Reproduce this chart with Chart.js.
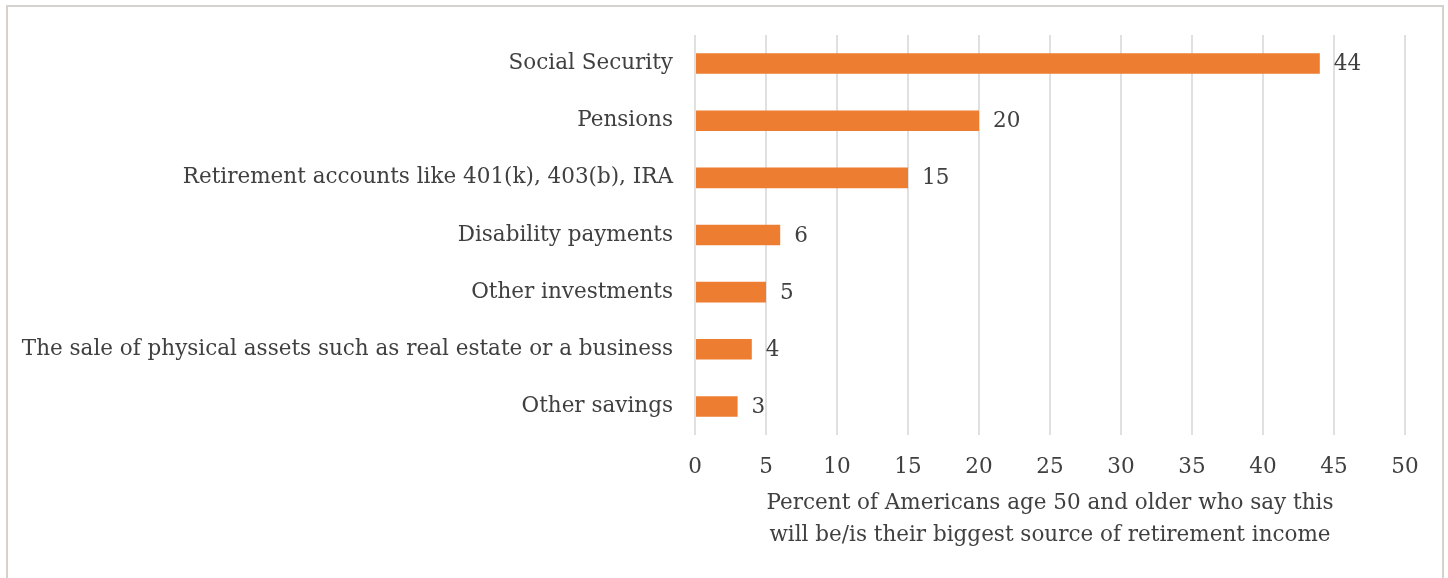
<!DOCTYPE html>
<html>
<head>
<meta charset="utf-8">
<script src="https://cdn.jsdelivr.net/npm/chart.js@4"></script>
<style>
  html, body { margin: 0; padding: 0; background: #fff; }
  #wrap { position: relative; width: 1448px; height: 578px; }
  #frame {
    position: absolute; left: 6px; top: 5px; width: 1438px; height: 600px;
    border: 2px solid #d6d1cc; box-sizing: border-box; pointer-events: none;
  }
  canvas { position: absolute; left: 0; top: 0; }
</style>
</head>
<body>
<div id="wrap">
  <canvas id="incomeChart" width="1448" height="578"></canvas>
  <div id="frame"></div>
</div>
<script>
// Biggest source of retirement income, age 50+
const sources = [
  'Social Security',
  'Pensions',
  'Retirement accounts like 401(k), 403(b), IRA',
  'Disability payments',
  'Other investments',
  'The sale of physical assets such as real estate or a business',
  'Other savings'
];
const percents = [44, 20, 15, 6, 5, 4, 3];
const axisTitle = [
  'Percent of Americans age 50 and older who say this',
  'will be/is their biggest source of retirement income'
];

const textColor = '#404040';
const fontFamily = '"DejaVu Serif", serif';
const fontSize = 21.5;

// writes the value just past the end of each bar
const valueLabels = {
  id: 'valueLabels',
  afterDatasetsDraw(chart) {
    const ctx = chart.ctx;
    const meta = chart.getDatasetMeta(0);
    ctx.save();
    ctx.font = fontSize + 'px ' + fontFamily;
    ctx.fillStyle = textColor;
    ctx.textAlign = 'left';
    ctx.textBaseline = 'middle';
    meta.data.forEach((bar, i) => {
      ctx.fillText(String(percents[i]), bar.x + 14, bar.y + 1);
    });
    ctx.restore();
  }
};

const ctx = document.getElementById('incomeChart').getContext('2d');
new Chart(ctx, {
  type: 'bar',
  data: {
    labels: sources,
    datasets: [{
      data: percents,
      backgroundColor: '#ed7d31',
      barPercentage: 0.36,
      categoryPercentage: 1
    }]
  },
  options: {
    indexAxis: 'y',
    responsive: false,
    animation: false,
    layout: { padding: { top: 35, right: 43, left: 0, bottom: 0 } },
    plugins: {
      legend: { display: false },
      tooltip: { enabled: false }
    },
    scales: {
      x: {
        min: 0,
        max: 50,
        ticks: {
          stepSize: 5,
          padding: 20,
          color: textColor,
          font: { family: fontFamily, size: fontSize }
        },
        grid: { color: '#e0e0e0', lineWidth: 2, drawTicks: false },
        border: { display: false },
        title: {
          display: true,
          text: axisTitle,
          color: textColor,
          font: { family: fontFamily, size: fontSize, lineHeight: 1.49 },
          padding: { top: 0, bottom: 27 }
        },
        afterFit(scale) { scale.height = 143; }
      },
      y: {
        ticks: {
          padding: 22,
          color: textColor,
          font: { family: fontFamily, size: fontSize }
        },
        grid: { display: false, drawTicks: false },
        border: { display: false },
        afterFit(scale) { scale.width = 695; }
      }
    }
  },
  plugins: [valueLabels]
});
</script>
</body>
</html>
